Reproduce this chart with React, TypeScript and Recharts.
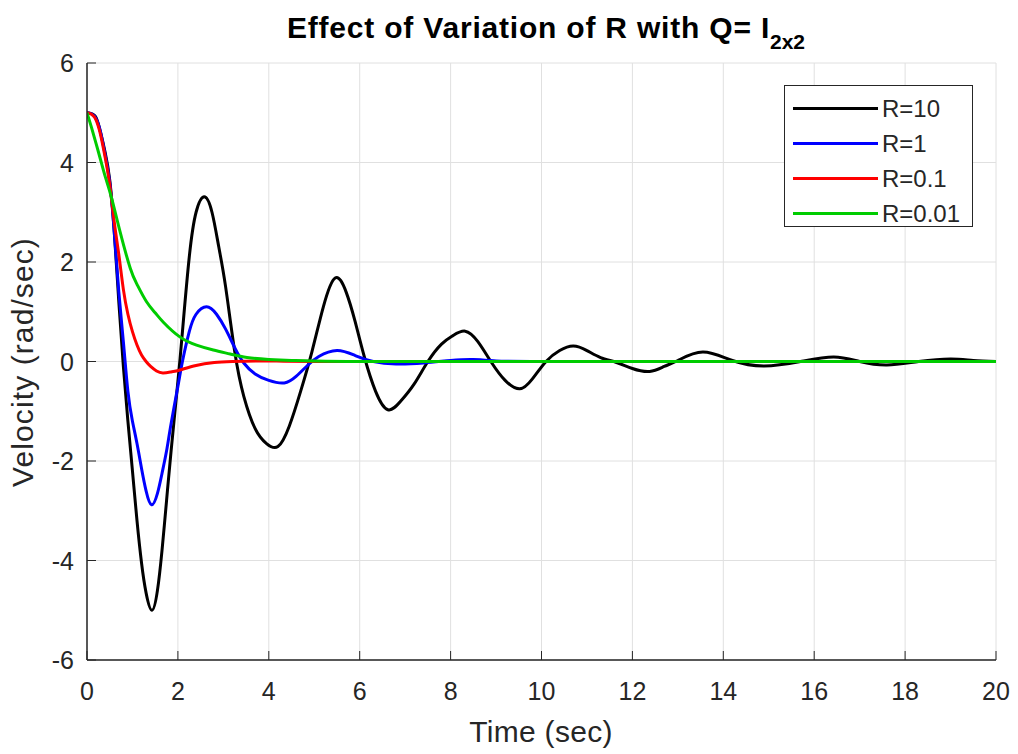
import React from 'react';
import { LineChart, Line, XAxis, YAxis, CartesianGrid, Legend } from 'recharts';

const X_TICKS = [0, 2, 4, 6, 8, 10, 12, 14, 16, 18, 20];
const Y_TICKS = [-6, -4, -2, 0, 2, 4, 6];

const T_R10 = [0, 0.1, 0.2, 0.3, 0.4, 0.5, 0.6, 0.7, 0.8, 0.9, 1.0, 1.1, 1.2, 1.3, 1.43, 1.55, 1.65, 1.75, 1.85, 2.0, 2.1, 2.25, 2.4, 2.58, 2.75, 2.9, 3.05, 3.25, 3.45, 3.7, 3.95, 4.2, 4.45, 4.7, 4.95, 5.2, 5.46, 5.7, 5.9, 6.1, 6.35, 6.62, 6.9, 7.2, 7.5, 7.8, 8.05, 8.32, 8.6, 8.9, 9.2, 9.52, 9.8, 10.1, 10.4, 10.7, 11.0, 11.3, 11.65, 12.0, 12.38, 12.7, 13.0, 13.55, 14.2, 14.9, 15.7, 16.43, 17.0, 17.6, 18.3, 19.0, 19.5, 20];
const V_R10 = [5.0, 4.98, 4.9, 4.6, 4.2, 3.65, 2.6, 1.2, -0.1, -1.2, -2.2, -3.2, -4.05, -4.65, -5.0, -4.6, -3.8, -2.8, -1.8, -0.4, 0.6, 2.1, 3.0, 3.31, 3.0, 2.3, 1.5, 0.2, -0.7, -1.35, -1.65, -1.71, -1.3, -0.6, 0.2, 1.1, 1.68, 1.4, 0.8, 0.1, -0.6, -0.97, -0.8, -0.45, 0.0, 0.35, 0.52, 0.61, 0.4, -0.02, -0.38, -0.55, -0.35, 0.0, 0.22, 0.31, 0.22, 0.08, -0.02, -0.14, -0.2, -0.1, 0.02, 0.19, 0.02, -0.09, 0.0, 0.09, 0.0, -0.07, 0.0, 0.05, 0.02, 0.0];

const T_R1 = [0, 0.1, 0.2, 0.3, 0.4, 0.5, 0.6, 0.7, 0.8, 0.9, 1.0, 1.1, 1.2, 1.3, 1.42, 1.55, 1.65, 1.75, 1.85, 2.0, 2.1, 2.25, 2.4, 2.63, 2.85, 3.05, 3.25, 3.45, 3.7, 4.0, 4.34, 4.6, 4.85, 5.1, 5.5, 5.9, 6.3, 6.8, 7.4, 8.0, 8.5, 9.0, 10, 14, 20];
const V_R1 = [5.0, 4.98, 4.88, 4.6, 4.15, 3.6, 2.6, 1.4, 0.4, -0.6, -1.2, -1.65, -2.15, -2.6, -2.88, -2.65, -2.25, -1.8, -1.25, -0.5, 0.0, 0.6, 0.95, 1.1, 0.95, 0.65, 0.28, -0.03, -0.25, -0.38, -0.43, -0.3, -0.08, 0.1, 0.22, 0.12, 0.0, -0.05, -0.03, 0.02, 0.04, 0.01, 0.0, 0.0, 0.0];

const T_R01 = [0, 0.1, 0.2, 0.3, 0.4, 0.5, 0.6, 0.7, 0.8, 0.9, 1.0, 1.1, 1.2, 1.3, 1.4, 1.53, 1.67, 1.85, 2.05, 2.4, 2.8, 3.2, 4, 5, 10, 20];
const V_R01 = [5.0, 4.97, 4.85, 4.55, 4.1, 3.55, 2.8, 2.15, 1.45, 0.95, 0.6, 0.33, 0.13, 0.0, -0.1, -0.19, -0.23, -0.21, -0.17, -0.08, -0.02, 0.0, 0.01, 0.0, 0.0, 0.0];

const T_R001 = [0, 0.1, 0.2, 0.3, 0.4, 0.54, 0.73, 0.95, 1.1, 1.31, 1.5, 1.68, 2.05, 2.41, 2.78, 3.15, 3.52, 4.0, 4.5, 5.0, 6.0, 10, 20];
const V_R001 = [5.0, 4.7, 4.38, 4.05, 3.72, 3.29, 2.6, 1.88, 1.55, 1.2, 0.98, 0.79, 0.49, 0.33, 0.23, 0.15, 0.08, 0.04, 0.02, 0.01, 0.0, 0.0, 0.0];

const SERIES_NAMES = ['R=10', 'R=1', 'R=0.1', 'R=0.01'];
const SERIES_COLORS = ['#000000', '#0000ff', '#ff0000', '#00cc00'];
const SERIES_T = [T_R10, T_R1, T_R01, T_R001];
const SERIES_V = [V_R10, V_R1, V_R01, V_R001];

const zip = (t: number[], v: number[]) => t.map((x, i) => ({ t: x, v: v[i] }));

const FONT = '"Liberation Sans", Arial, Helvetica, sans-serif';
const INK = '#262626';

const BottomTick = (p: any) => (
  <g>
    <line x1={p.x} x2={p.x} y1={p.y} y2={p.y - 9} stroke={INK} strokeWidth={1} />
    <text x={p.x} y={p.y + 40} textAnchor="middle" fontSize={25} fill={INK} fontFamily={FONT}>
      {p.payload.value}
    </text>
  </g>
);
const TopTick = (p: any) => (
  <line x1={p.x} x2={p.x} y1={p.y} y2={p.y + 9} stroke={INK} strokeWidth={1} />
);
const LeftTick = (p: any) => (
  <g>
    <line x1={p.x} x2={p.x + 9} y1={p.y} y2={p.y} stroke={INK} strokeWidth={1} />
    <text x={p.x - 13} y={p.y + 9} textAnchor="end" fontSize={25} fill={INK} fontFamily={FONT}>
      {p.payload.value}
    </text>
  </g>
);
const RightTick = (p: any) => (
  <line x1={p.x} x2={p.x - 9} y1={p.y} y2={p.y} stroke={INK} strokeWidth={1} />
);

const LegendBox = () => (
  <div
    style={{
      width: 189,
      height: 142,
      border: '1px solid #262626',
      background: '#ffffff',
      boxSizing: 'border-box',
      paddingTop: 5,
    }}
  >
    {SERIES_NAMES.map((n, i) => (
      <div key={n} style={{ display: 'flex', alignItems: 'center', height: 35 }}>
        <div style={{ marginLeft: 8, width: 85, height: 3, background: SERIES_COLORS[i] }} />
        <span style={{ marginLeft: 4, fontFamily: FONT, fontSize: 24, color: INK, lineHeight: '24px' }}>{n}</span>
      </div>
    ))}
  </div>
);

export default function App() {
  return (
    <div style={{ position: 'absolute', left: 0, top: 0, width: 1018, height: 754, background: '#ffffff' }}>
      <LineChart width={1018} height={754} margin={{ top: 63, right: 22, bottom: 64, left: 27 }}>
        <CartesianGrid stroke="#e0e0e0" strokeWidth={1} horizontalValues={Y_TICKS} verticalValues={X_TICKS} />
        <XAxis
          dataKey="t"
          type="number"
          domain={[0, 20]}
          ticks={X_TICKS}
          height={30}
          tickSize={0}
          tickMargin={0}
          tick={BottomTick}
          axisLine={{ stroke: INK, strokeWidth: 1.5 }}
          tickLine={false}
          allowDataOverflow
        />
        <XAxis
          xAxisId="top"
          orientation="top"
          dataKey="t"
          type="number"
          domain={[0, 20]}
          ticks={X_TICKS}
          height={0}
          tickSize={0}
          tickMargin={0}
          tick={TopTick}
          axisLine={{ stroke: INK, strokeWidth: 1.5 }}
          tickLine={false}
          allowDataOverflow
        />
        <YAxis
          type="number"
          domain={[-6, 6]}
          ticks={Y_TICKS}
          width={60}
          tickSize={0}
          tickMargin={0}
          tick={LeftTick}
          axisLine={{ stroke: INK, strokeWidth: 1.5 }}
          tickLine={false}
          allowDataOverflow
        />
        <YAxis
          yAxisId="right"
          orientation="right"
          type="number"
          domain={[-6, 6]}
          ticks={Y_TICKS}
          width={0}
          tickSize={0}
          tickMargin={0}
          tick={RightTick}
          axisLine={{ stroke: INK, strokeWidth: 1.5 }}
          tickLine={false}
          allowDataOverflow
        />
        {SERIES_NAMES.map((n, i) => (
          <Line
            key={n}
            name={n}
            data={zip(SERIES_T[i], SERIES_V[i])}
            dataKey="v"
            type="natural"
            stroke={SERIES_COLORS[i]}
            strokeWidth={3}
            dot={false}
            activeDot={false}
            isAnimationActive={false}
          />
        ))}
        <Legend
          layout="vertical"
          align="center"
          verticalAlign="middle"
          content={LegendBox}
          wrapperStyle={{ position: 'absolute', top: 85, left: 784, width: 189, height: 142 }}
        />
      </LineChart>
      <svg
        width={1018}
        height={754}
        style={{ position: 'absolute', left: 0, top: 0, pointerEvents: 'none' }}
      >
        <text x={546} y={38} textAnchor="middle" fontFamily={FONT} fontWeight="bold" fontSize={30} letterSpacing={0.8} fill="#000000">
          Effect of Variation of R with Q= I
          <tspan fontSize={21} dy={11} letterSpacing={0}>2x2</tspan>
        </text>
        <text x={541} y={742} textAnchor="middle" fontFamily={FONT} fontSize={30} letterSpacing={0.3} fill={INK}>
          Time (sec)
        </text>
        <text
          x={33}
          y={362}
          textAnchor="middle"
          fontFamily={FONT}
          fontSize={30}
          letterSpacing={1.1}
          fill={INK}
          transform="rotate(-90 33 362)"
        >
          Velocity (rad/sec)
        </text>
      </svg>
    </div>
  );
}
